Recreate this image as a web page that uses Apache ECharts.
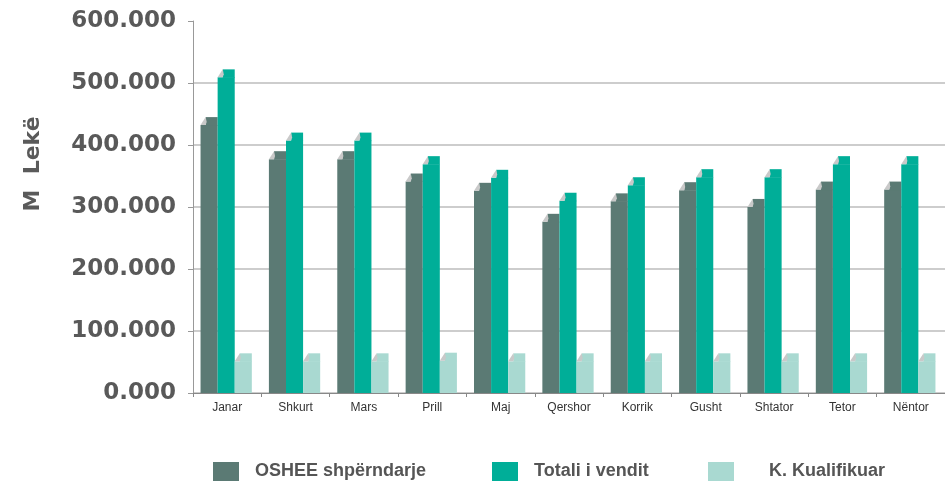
<!DOCTYPE html>
<html>
<head>
<meta charset="utf-8">
<script src="https://cdn.jsdelivr.net/npm/echarts@6/dist/echarts.min.js"></script>
<style>
  html, body { margin: 0; padding: 0; background: #fff; }
  #chart { width: 945px; height: 483px; }
</style>
</head>
<body>
<div id="chart"></div>
<script>
var months = ['Janar', 'Shkurt', 'Mars', 'Prill', 'Maj', 'Qershor', 'Korrik', 'Gusht', 'Shtator', 'Tetor', 'Nëntor'];
var oshee = [445, 390, 390, 354, 339, 289, 322, 340, 313, 341, 341];
var totali = [522, 420, 420, 382, 360, 323, 348, 361, 361, 382, 382];
var kualifikuar = [64, 64, 64, 65, 64, 64, 64, 64, 64, 64, 64];
var yTicks = [0, 100, 200, 300, 400, 500, 600];

var names = ['OSHEE shpërndarje', 'Totali i vendit', 'K. Kualifikuar'];
var colors = ['#5b7a74', '#00ae98', '#a9d9d1'];

var chart = echarts.init(document.getElementById('chart'));

// bar with a folded top-left corner, like the old 3d excel bars
function barItem(slot) {
    return function (params, api) {
        var top = api.coord([api.value(0), api.value(1)]);
        var base = api.coord([api.value(0), 0]);
        var cat = api.size([1, 0])[0];
        var bw = cat * 0.25;
        var x0 = top[0] - 1.5 * bw - 1 + slot * bw;
        var bev = 8;
        var fold = bw * 0.3;
        var color = api.visual('color');
        return {
            type: 'group',
            children: [{
                type: 'rect',
                shape: { x: x0, y: top[1] + bev, width: bw, height: base[1] - top[1] - bev },
                style: { fill: color }
            }, {
                type: 'rect',
                shape: { x: x0 + fold, y: top[1], width: bw - fold, height: bev + 0.5 },
                style: { fill: color }
            }, {
                type: 'polygon',
                shape: { points: [[x0, top[1] + bev], [x0 + fold, top[1]], [x0 + fold + 1, top[1] + bev * 0.6], [x0 + fold, top[1] + bev]] },
                style: { fill: '#c9c9c9' }
            }]
        };
    };
}

function makeSeries(i, values) {
    return {
        name: names[i],
        type: 'custom',
        renderItem: barItem(i),
        itemStyle: { color: colors[i] },
        encode: { x: 0, y: 1 },
        data: values.map(function (v, k) { return [k, v]; })
    };
}

// one legend per entry so the gaps can follow the original
function makeLegend(i, left, textGap) {
    return {
        left: left,
        top: 457,
        itemWidth: 26,
        itemHeight: 19,
        icon: 'rect',
        textStyle: { fontFamily: 'Liberation Sans', fontSize: 18, fontWeight: 'bold', color: '#555', padding: [0, 0, 0, textGap] },
        data: [names[i]]
    };
}

var option = {
    backgroundColor: '#fff',
    animation: false,
    grid: { left: 193, right: -7, top: 21, bottom: 90 },
    legend: [
        makeLegend(0, 208, 11),
        makeLegend(1, 487, 11),
        makeLegend(2, 703, 30)
    ],
    graphic: [{
        type: 'text',
        x: 33,
        y: 164,
        rotation: Math.PI / 2,
        style: {
            text: 'M  Lekë',
            font: 'bold 22px "DejaVu Sans"',
            fill: '#5a5a5a',
            align: 'center',
            verticalAlign: 'middle'
        }
    }],
    xAxis: {
        type: 'category',
        data: months,
        axisLine: { lineStyle: { color: '#888', width: 1 } },
        axisTick: { show: true, length: 4, lineStyle: { color: '#888' } },
        axisLabel: { fontFamily: 'Liberation Sans', fontSize: 12, color: '#333', margin: 9 }
    },
    yAxis: {
        type: 'value',
        min: yTicks[0],
        max: yTicks[yTicks.length - 1],
        interval: 100,
        axisLine: { show: true, lineStyle: { color: '#999' } },
        axisTick: { show: true, length: 5, lineStyle: { color: '#999' } },
        axisLabel: {
            fontFamily: 'DejaVu Sans',
            fontWeight: 'bold',
            fontSize: 23,
            color: '#595959',
            margin: 17,
            formatter: function (v) { return v.toFixed(3); }
        },
        splitLine: {
            lineStyle: {
                color: ['#bdbdbd', '#bdbdbd', '#bdbdbd', '#bdbdbd', '#bdbdbd', '#bdbdbd', 'rgba(0,0,0,0)'],
                width: 1.5
            }
        }
    },
    series: [
        makeSeries(0, oshee),
        makeSeries(1, totali),
        makeSeries(2, kualifikuar)
    ]
};

chart.setOption(option);
</script>
</body>
</html>
